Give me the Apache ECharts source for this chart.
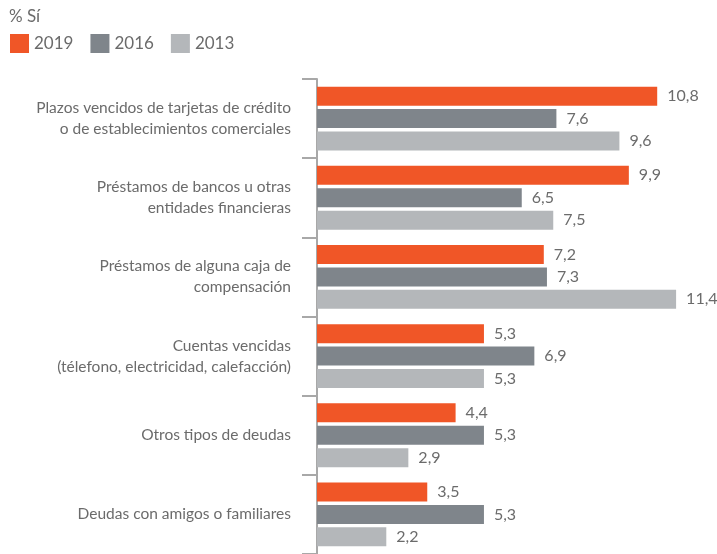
<!DOCTYPE html>
<html>
<head>
<meta charset="utf-8">
<script src="https://cdn.jsdelivr.net/npm/echarts@6/dist/echarts.min.js"></script>
<style>
  html, body { margin: 0; padding: 0; background: #fff; }
  #chart { width: 717px; height: 554px; }
</style>
</head>
<body>
<div id="chart"></div>
<script>
// % Sí por tipo de deuda
const categories = [
  'Plazos vencidos de tarjetas de crédito\no de establecimientos comerciales',
  'Préstamos de bancos u otras\nentidades financieras',
  'Préstamos de alguna caja de\ncompensación',
  'Cuentas vencidas\n(télefono, electricidad, calefacción)',
  'Otros tipos de deudas',
  'Deudas con amigos o familiares'
];
const years = ['2019', '2016', '2013'];
const v2019 = [10.8, 9.9, 7.2, 5.3, 4.4, 3.5];
const v2016 = [7.6, 6.5, 7.3, 6.9, 5.3, 5.3];
const v2013 = [9.6, 7.5, 11.4, 5.3, 2.9, 2.2];
const colors = ['#F05627', '#7F858B', '#B4B7BA'];

const fontFam = 'Lato, "Open Sans", sans-serif';
const textColor = '#6b6b6b';

function makeSeries(name, data, color) {
  return {
    name: name,
    type: 'bar',
    data: data,
    barWidth: 19,
    barGap: '18%',
    itemStyle: { color: color },
    label: {
      show: true,
      position: 'right',
      distance: 10,
      color: textColor,
      fontFamily: fontFam,
      fontSize: 16,
      formatter: p => String(p.value).replace('.', ',')
    }
  };
}

const myChart = echarts.init(document.getElementById('chart'));
myChart.setOption({
  animation: false,
  title: {
    text: '% Sí',
    left: 4,
    top: 3,
    textStyle: { color: textColor, fontFamily: fontFam, fontSize: 17, fontWeight: 'normal' }
  },
  legend: {
    data: years,
    left: 5,
    top: 29,
    itemWidth: 19,
    itemHeight: 19,
    itemGap: 17,
    icon: 'rect',
    textStyle: { color: textColor, fontFamily: fontFam, fontSize: 17 }
  },
  grid: { left: 317, top: 79, width: 378, bottom: 0 },
  xAxis: {
    type: 'value',
    min: 0,
    max: 12,
    show: false
  },
  yAxis: {
    type: 'category',
    inverse: true,
    data: categories,
    axisLine: { show: true, lineStyle: { color: '#a8a8a8', width: 2 } },
    axisTick: { show: true, length: 15, interval: 0, lineStyle: { color: '#a8a8a8', width: 2 } },
    axisLabel: {
      margin: 26,
      color: textColor,
      fontFamily: fontFam,
      fontSize: 15.5,
      lineHeight: 21,
      align: 'right'
    }
  },
  series: [
    makeSeries(years[0], v2019, colors[0]),
    makeSeries(years[1], v2016, colors[1]),
    makeSeries(years[2], v2013, colors[2])
  ]
});
</script>
</body>
</html>
